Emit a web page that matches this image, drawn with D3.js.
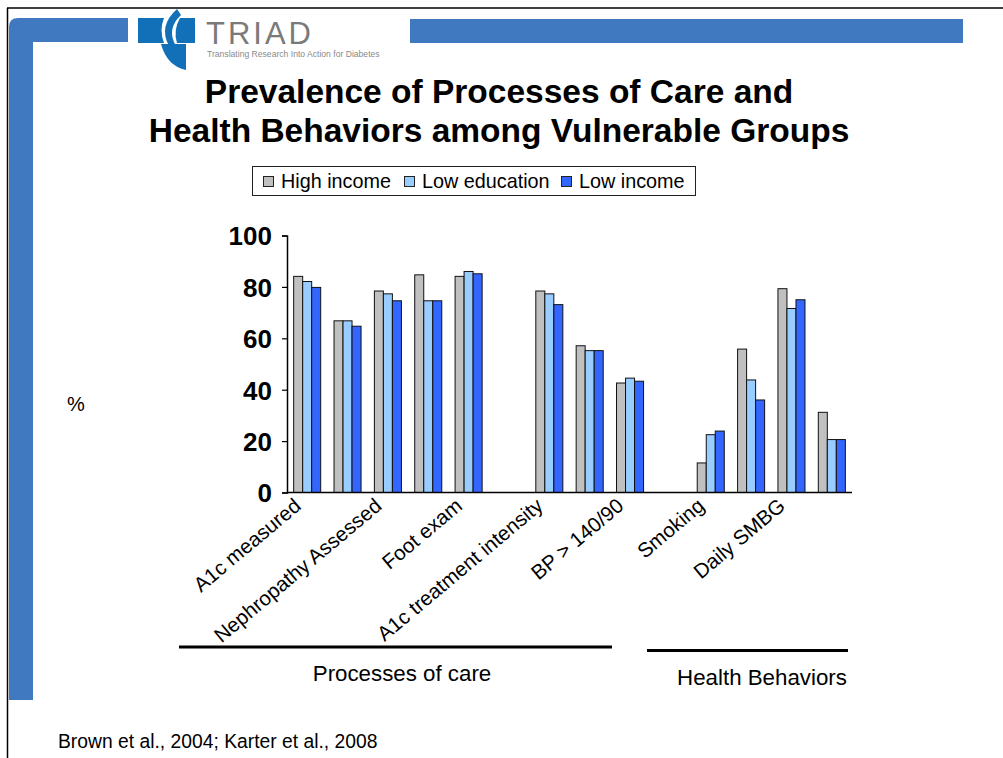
<!DOCTYPE html>
<html>
<head>
<meta charset="utf-8">
<script src="https://cdn.jsdelivr.net/npm/d3@7"></script>
<style>
  html, body { margin: 0; padding: 0; background: #fff; }
  svg { display: block; font-family: "Liberation Sans", Arial, sans-serif; }
</style>
</head>
<body>
<svg id="chart" width="1003" height="758"></svg>
<script>
// Category slots along the x axis (blank entries carry no printed label)
const categories = ["A1c measured", "", "Nephropathy Assessed", "", "Foot exam", "",
  "A1c treatment intensity", "", "BP > 140/90", "", "Smoking", "", "Daily SMBG", ""];

// Percentages per group (null = empty slot)
const highIncome   = [84.1, 66.8, 78.4, 84.7, 84.1, null, 78.4, 57.1, 42.6, null, 11.5, 55.8, 79.3, 31.2];
const lowEducation = [82.1, 66.8, 77.3, 74.6, 86.0, null, 77.3, 55.2, 44.5, null, 22.5, 43.8, 71.6, 20.6];
const lowIncome    = [79.8, 64.7, 74.6, 74.6, 85.1, null, 73.1, 55.2, 43.3, null, 23.9, 36.0, 75.0, 20.6];

const seriesNames = ["High income", "Low education", "Low income"];
const seriesColors = ["#C0C0C0", "#99CCFF", "#3366FF"];
const yTicks = [0, 20, 40, 60, 80, 100];

const svg = d3.select("#chart");
const blue = "#4179C1";

// Slide frame and decorative bars
svg.append("path")
  .attr("d", "M9,27 Q9,18 18,18 H128 V42 H33 V700 H9 Z")
  .attr("fill", blue);
svg.append("rect").attr("x", 410).attr("y", 19).attr("width", 553).attr("height", 24).attr("fill", blue);
svg.append("line").attr("x1", 7).attr("x2", 1003).attr("y1", 8).attr("y2", 8)
  .attr("stroke", "#000").attr("stroke-width", 1.5);
svg.append("line").attr("x1", 7.5).attr("x2", 7.5).attr("y1", 8).attr("y2", 758)
  .attr("stroke", "#000").attr("stroke-width", 1.5);

// TRIAD logo
const logo = svg.append("g");
const logoBlue = "#1170B8";
logo.append("path").attr("d", "M138,18 H164 Q159,30 164,43 H138 Z").attr("fill", logoBlue);
logo.append("path").attr("d", "M177,9 Q158,26 169,46 L176,46 Q166,29 181,15 Z").attr("fill", logoBlue);
logo.append("path").attr("d", "M180,18 H195 V43 H177 Q173,30 180,18 Z").attr("fill", logoBlue);
logo.append("path").attr("d", "M161,44 H186 V70 Q167,66 161,44 Z").attr("fill", logoBlue);
logo.append("text").attr("x", 206).attr("y", 44).text("TRIAD")
  .attr("font-size", 31).attr("letter-spacing", 3).attr("fill", "#7a7a7a");
logo.append("text").attr("x", 207).attr("y", 57).text("Translating Research Into Action for Diabetes")
  .attr("font-size", 8.6).attr("fill", "#8a8a8a");

// Title
const title = svg.append("text").attr("text-anchor", "middle")
  .attr("font-weight", "bold").attr("font-size", 33.5).attr("fill", "#000");
title.append("tspan").attr("x", 499).attr("y", 103).text("Prevalence of Processes of Care and");
title.append("tspan").attr("x", 499).attr("y", 142).text("Health Behaviors among Vulnerable Groups");

// Scales
const idx = d3.range(categories.length);
const x0 = d3.scaleBand().domain(idx).range([287, 852]).paddingInner(0.33).paddingOuter(0.165);
const x1 = d3.scaleBand().domain(d3.range(seriesNames.length)).range([0, x0.bandwidth()]);
const y = d3.scaleLinear().domain([0, 100]).range([492.5, 235.5]);

const series = [highIncome, lowEducation, lowIncome];

// Bars
const groups = svg.append("g").selectAll("g").data(idx).join("g")
  .attr("transform", i => `translate(${x0(i)},0)`);
groups.selectAll("rect")
  .data(i => series.map((s, k) => ({ k, v: s[i] })).filter(d => d.v != null))
  .join("rect")
  .attr("x", d => x1(d.k))
  .attr("width", x1.bandwidth())
  .attr("y", d => y(d.v))
  .attr("height", d => y(0) - y(d.v))
  .attr("fill", d => seriesColors[d.k])
  .attr("stroke", "#111")
  .attr("stroke-width", 1);

// Y axis
const yAxis = svg.append("g").attr("transform", "translate(287,0)")
  .call(d3.axisLeft(y).tickValues(yTicks).tickSize(5).tickPadding(10).tickFormat(d3.format("d")));
yAxis.select(".domain").attr("stroke", "#000").attr("stroke-width", 1.5);
yAxis.selectAll(".tick line").attr("stroke", "#000").attr("stroke-width", 1.2);
yAxis.selectAll(".tick text")
  .attr("font-family", "\"Liberation Sans\", Arial, sans-serif")
  .attr("font-size", 26).attr("font-weight", "bold").attr("fill", "#000").attr("dy", "0.36em");

// X axis baseline
svg.append("line").attr("x1", 287).attr("x2", 852).attr("y1", y(0)).attr("y2", y(0))
  .attr("stroke", "#000").attr("stroke-width", 1.5);

// Category labels
svg.append("g").selectAll("text").data(idx.filter(i => categories[i] !== "")).join("text")
  .attr("transform", i => `translate(${x0(i) + x0.bandwidth() / 2 - 5},508) rotate(-40)`)
  .attr("text-anchor", "end")
  .attr("font-size", 20.5)
  .attr("fill", "#000")
  .text(i => categories[i]);

// Y axis title
svg.append("text").attr("x", 67).attr("y", 411).attr("font-size", 20).text("%");

// Group brackets
svg.append("line").attr("x1", 179).attr("x2", 612).attr("y1", 647).attr("y2", 647)
  .attr("stroke", "#000").attr("stroke-width", 3);
svg.append("text").attr("x", 402).attr("y", 681).attr("text-anchor", "middle")
  .attr("font-size", 22.3).text("Processes of care");
svg.append("line").attr("x1", 647).attr("x2", 848).attr("y1", 650.5).attr("y2", 650.5)
  .attr("stroke", "#000").attr("stroke-width", 3);
svg.append("text").attr("x", 762).attr("y", 685).attr("text-anchor", "middle")
  .attr("font-size", 22.3).text("Health Behaviors");

// Legend
svg.append("rect").attr("x", 252.5).attr("y", 166.5).attr("width", 443).attr("height", 29)
  .attr("fill", "#fff").attr("stroke", "#222").attr("stroke-width", 1);
const legendX = [263, 404, 561];
const leg = svg.append("g").selectAll("g").data(seriesNames).join("g")
  .attr("transform", (d, i) => `translate(${legendX[i]},0)`);
leg.append("rect").attr("x", 0.5).attr("y", 176.5).attr("width", 10).attr("height", 10)
  .attr("fill", (d, i) => seriesColors[i]).attr("stroke", "#222").attr("stroke-width", 1);
leg.append("text").attr("x", 18).attr("y", 188).attr("font-size", 19.8).text(d => d);

// Source note
svg.append("text").attr("x", 58).attr("y", 748).attr("font-size", 19.3).text("Brown et al., 2004; Karter et al., 2008");
</script>
</body>
</html>
